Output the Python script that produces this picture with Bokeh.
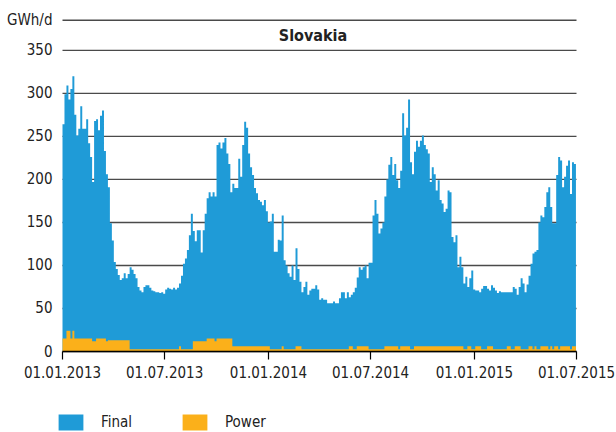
import pandas as pd
from bokeh.plotting import figure
from bokeh.models import FixedTicker, Legend, LegendItem, Label, ColumnDataSource, Range1d
from bokeh.embed import file_html
from bokeh.resources import INLINE

# ---------------- data ----------------
start_date = "2013-01-01"
period_days = 3.5          # each value covers half a week

final = [
    264, 299, 309, 293, 305, 320, 275, 251, 259, 285,
    259, 259, 270, 242, 226, 197, 268, 270, 257, 274,
    280, 233, 206, 191, 149, 129, 104, 96, 89, 83,
    85, 91, 85, 90, 98, 95, 90, 85, 75, 71,
    69, 75, 77, 77, 74, 71, 70, 69, 69, 68,
    69, 67, 72, 74, 73, 72, 74, 72, 74, 79,
    88, 102, 108, 118, 135, 160, 140, 128, 141, 141,
    115, 141, 160, 178, 185, 180, 185, 180, 240, 243,
    236, 243, 248, 230, 218, 185, 195, 190, 190, 224,
    203, 240, 267, 260, 230, 214, 205, 190, 184, 176,
    174, 170, 176, 163, 150, 151, 160, 116, 116, 130,
    129, 158, 106, 100, 91, 87, 100, 83, 120, 96,
    81, 69, 75, 81, 66, 71, 73, 73, 77, 72,
    60, 62, 60, 60, 56, 56, 56, 58, 56, 56,
    62, 69, 69, 62, 69, 63, 66, 69, 74, 86,
    98, 95, 98, 100, 85, 103, 103, 158, 176, 160,
    137, 143, 150, 180, 200, 217, 226, 205, 218, 199,
    190, 210, 277, 251, 260, 293, 220, 206, 232, 245,
    238, 245, 251, 240, 235, 230, 197, 214, 206, 187,
    199, 176, 172, 162, 166, 187, 185, 133, 127, 135,
    98, 110, 98, 79, 87, 75, 85, 94, 72, 71,
    71, 69, 73, 76, 76, 73, 71, 77, 74, 71,
    68, 70, 69, 69, 69, 69, 69, 69, 75, 73,
    66, 75, 85, 79, 69, 78, 88, 102, 114, 116,
    118, 150, 158, 156, 168, 185, 191, 168, 149, 149,
    205, 226, 222, 191, 203, 216, 222, 183, 220, 218,
]

power = [
    15, 15, 24, 24, 15, 24, 15, 15, 15, 15,
    15, 15, 15, 15, 15, 12, 12, 15, 15, 15,
    15, 15, 12, 13, 13, 13, 13, 13, 13, 13,
    13, 13, 13, 13, 2.5, 2.5, 2.5, 2.5, 2.5, 2.5,
    2.5, 2.5, 2.5, 2.5, 2.5, 2.5, 2.5, 2.5, 2.5, 2.5,
    2.5, 2.5, 2.5, 2.5, 2.5, 2.5, 2.5, 2.5, 2.5, 6,
    2.5, 2.5, 2.5, 2.5, 2.5, 2.5, 12, 12, 12, 12,
    12, 12, 12, 15, 15, 15, 15, 12, 15, 15,
    15, 15, 15, 15, 15, 15, 6, 6, 6, 6,
    6, 6, 6, 6, 6, 6, 6, 6, 6, 6,
    6, 6, 6, 6, 6, 2.5, 2.5, 2.5, 2.5, 2.5,
    2.5, 6, 2.5, 2.5, 2.5, 2.5, 2.5, 2.5, 6, 6,
    6, 2.5, 2.5, 2.5, 2.5, 2.5, 2.5, 2.5, 2.5, 2.5,
    2.5, 2.5, 2.5, 2.5, 2.5, 2.5, 2.5, 2.5, 2.5, 2.5,
    2.5, 2.5, 2.5, 2.5, 2.5, 6, 6, 2.5, 2.5, 6,
    6, 6, 6, 6, 6, 2.5, 2.5, 2.5, 2.5, 2.5,
    2.5, 2.5, 2.5, 6, 6, 6, 6, 6, 6, 6,
    2.5, 6, 6, 6, 6, 6, 2.5, 2.5, 6, 6,
    6, 6, 6, 6, 6, 6, 6, 6, 6, 6,
    6, 6, 6, 6, 6, 6, 6, 6, 6, 6,
    6, 6, 6, 2.5, 2.5, 6, 6, 2.5, 2.5, 6,
    6, 6, 2.5, 2.5, 2.5, 6, 6, 6, 2.5, 2.5,
    2.5, 2.5, 2.5, 2.5, 2.5, 6, 6, 2.5, 2.5, 6,
    6, 6, 2.5, 2.5, 2.5, 2.5, 6, 6, 2.5, 6,
    2.5, 2.5, 6, 6, 6, 6, 2.5, 6, 2.5, 6,
    6, 2.5, 6, 6, 6, 6, 6, 2.5, 6, 6,
]

series_names = ["Final", "Power"]
series_colors = ["#1f9bd7", "#fbb01a"]
title_text = "Slovakia"
unit_label = "GWh/d"

x_tick_dates = ["2013-01-01", "2013-07-01", "2014-01-01", "2014-07-01", "2015-01-01", "2015-07-01"]
x_tick_labels = ["01.01.2013", "01.07.2013", "01.01.2014", "01.07.2014", "01.01.2015", "01.07.2015"]
y_ticks = [0, 50, 100, 150, 200, 250, 300, 350]
y_unit_pos = 385

# ---------------- layout constants (pixels) ----------------
W, H = 616, 432
PLOT_L, PLOT_R = 62, 576      # where the time axis starts / ends
PLOT_T, PLOT_B = 18, 351      # where y = 387 / y = 0 sit
Y_SPAN = 387

FONT = "'DejaVu Sans Condensed', Roboto, sans-serif"
FS = "15px"
TXT = "#222222"
GRID = "#4a4a4a"

def ms(d):
    return pd.Timestamp(d).value / 1e6

x0, x1 = ms(x_tick_dates[0]), ms(x_tick_dates[-1])
ms_per_px = (x1 - x0) / (PLOT_R - PLOT_L)
u_per_px = Y_SPAN / (PLOT_B - PLOT_T)

t0 = pd.Timestamp(start_date)
edges = [t0 + pd.Timedelta(days=period_days * i) for i in range(len(final) + 1)]
src = ColumnDataSource(dict(
    x=edges,
    final=final + [final[-1]],
    power=power + [power[-1]],
))

# the frame fills the whole canvas; axes are pinned inside it
p = figure(
    frame_width=W, frame_height=H,
    min_border_left=0, min_border_right=0, min_border_top=0, min_border_bottom=0,
    x_axis_type="datetime",
    x_range=Range1d(x0 - PLOT_L * ms_per_px, x1 + (W - PLOT_R) * ms_per_px),
    y_range=Range1d(-(H - PLOT_B) * u_per_px, Y_SPAN + PLOT_T * u_per_px),
    output_backend="svg", toolbar_location=None,
)
p.outline_line_color = None
p.background_fill_color = "white"
p.border_fill_color = "white"
p.xgrid.grid_line_color = None
p.ygrid.grid_line_color = None

# horizontal rules at each y tick (incl. the unit line), drawn under the areas
yt = y_ticks + [y_unit_pos]
p.segment(x0=[x0] * len(yt), x1=[x1] * len(yt), y0=yt, y1=yt,
          line_color=GRID, line_width=1.4)

r_final = p.varea_step(x="x", y1=0, y2="final", step_mode="after", source=src,
                       fill_color=series_colors[0])
r_power = p.varea_step(x="x", y1=0, y2="power", step_mode="after", source=src,
                       fill_color=series_colors[1])

# x axis, pinned at y = 0
xt = [ms(d) for d in x_tick_dates]
p.xaxis.fixed_location = 0
p.xaxis.bounds = (x0, x1)
p.xaxis.ticker = FixedTicker(ticks=xt)
p.xaxis.major_label_overrides = {t: lab for t, lab in zip(xt, x_tick_labels)}
p.xaxis.axis_line_color = "black"
p.xaxis.axis_line_width = 1.5
p.xaxis.major_tick_line_color = "black"
p.xaxis.major_tick_line_width = 1.2
p.xaxis.major_tick_out = 8
p.xaxis.major_tick_in = 0
p.xaxis.minor_tick_line_color = None
p.xaxis.major_label_standoff = 6
p.xaxis.major_label_text_font = FONT
p.xaxis.major_label_text_font_size = FS
p.xaxis.major_label_text_color = TXT

# y axis, pinned at the first date
p.yaxis.fixed_location = x0
p.yaxis.bounds = (0, y_unit_pos)
p.yaxis.ticker = FixedTicker(ticks=yt)
p.yaxis.major_label_overrides = {y_unit_pos: unit_label}
p.yaxis.axis_line_color = None
p.yaxis.major_tick_line_color = None
p.yaxis.minor_tick_line_color = None
p.yaxis.major_tick_out = 0
p.yaxis.major_tick_in = 0
p.yaxis.major_label_standoff = 10
p.yaxis.major_label_text_font = FONT
p.yaxis.major_label_text_font_size = FS
p.yaxis.major_label_text_color = TXT

# title inside the plot, between top rule and 350 rule
p.add_layout(Label(x=ms("2014-03-21"), y=367.5, text=title_text,
                   text_align="center", text_baseline="middle",
                   text_font=FONT, text_font_style="bold",
                   text_font_size="16px", text_color=TXT))

legend = Legend(
    items=[LegendItem(label=series_names[0], renderers=[r_final]),
           LegendItem(label=series_names[1], renderers=[r_power])],
    location=(55, 0), orientation="horizontal",
    glyph_width=31, glyph_height=20, label_standoff=15, label_width=62, spacing=16,
    padding=0, margin=0, border_line_color=None, background_fill_alpha=0,
    label_text_font=FONT, label_text_font_size=FS, label_text_color=TXT,
)
p.add_layout(legend)

open("out.html", "w").write(file_html(p, INLINE))
